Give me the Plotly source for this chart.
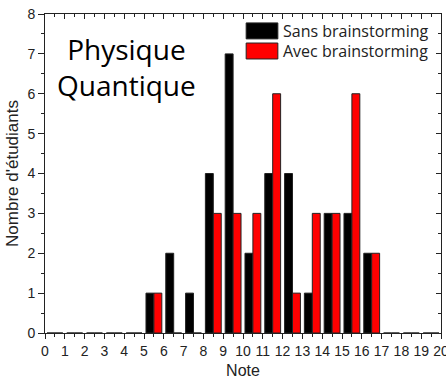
import plotly.graph_objects as go

notes = list(range(0, 20))
sans = [0, 0, 0, 0, 0, 1, 2, 1, 4, 7, 2, 4, 4, 1, 3, 3, 2, 0, 0, 0]
avec = [0, 0, 0, 0, 0, 1, 0, 0, 3, 3, 3, 6, 1, 3, 3, 6, 2, 0, 0, 0]
series_names = ["Sans brainstorming", "Avec brainstorming"]
series_colors = ["black", "#ff0000"]
xticks = list(range(0, 21))
yticks = list(range(0, 9))

xc = [n + 0.5 for n in notes]

fig = go.Figure()
for vals, name, col in zip([sans, avec], series_names, series_colors):
    fig.add_trace(go.Bar(x=xc, y=vals, name=name, showlegend=False,
                         marker=dict(color=col, line=dict(color="#222", width=1))))
fig.add_trace(go.Scatter(x=[None], y=[None], xaxis="x2", yaxis="y2", showlegend=False))

# custom legend (large swatches like the original)
shapes = []
annotations = []
for i, (name, col) in enumerate(zip(series_names, series_colors)):
    y_top = 0.972 - i * 0.063
    shapes.append(dict(type="rect", xref="paper", yref="paper",
                       x0=0.508, x1=0.588, y0=y_top - 0.05, y1=y_top,
                       fillcolor=col, line=dict(color="#222", width=1)))
    annotations.append(dict(text=name, xref="paper", yref="paper", x=0.595,
                            y=y_top - 0.025, xanchor="left", yanchor="middle",
                            showarrow=False,
                            font=dict(family="Open Sans", size=16, color="#222")))

annotations.append(dict(text="Physique<br>Quantique", x=0.207, y=0.955,
                        xref="paper", yref="paper", xanchor="center", yanchor="top",
                        showarrow=False, align="center",
                        font=dict(family="Open Sans", size=28, color="black")))

tickfont = dict(family="Liberation Sans, Arial", size=14, color="#222")
common = dict(showgrid=False, zeroline=False, tickcolor="#222", showline=True,
              linecolor="#222", linewidth=1)
fig.update_layout(
    width=446, height=381,
    margin=dict(l=45, r=5, t=14, b=48, autoexpand=False),
    paper_bgcolor="white", plot_bgcolor="white",
    barmode="group", bargap=0.2, bargroupgap=0,
    font=dict(family="Liberation Sans, Arial", color="#222"),
    xaxis=dict(range=[0, 20], tickvals=xticks, ticks="outside", ticklen=5,
               tickfont=tickfont, automargin=False, ticklabeloverflow="allow",
               minor=dict(dtick=0.5, ticks="outside", ticklen=3, tickcolor="#222"),
               title=dict(text="Note", font=dict(size=16), standoff=7), **common),
    yaxis=dict(range=[0, 8], tickvals=yticks, ticks="outside", ticklen=6,
               tickfont=tickfont, automargin=False,
               minor=dict(dtick=0.5, ticks="outside", ticklen=3, tickcolor="#222"),
               title=dict(text="Nombre d'étudiants", font=dict(size=17), standoff=4), **common),
    xaxis2=dict(range=[0, 20], overlaying="x", side="top", tickvals=xticks,
                ticks="inside", ticklen=5, showticklabels=False,
                minor=dict(dtick=0.5, ticks="inside", ticklen=3, tickcolor="#222"), **common),
    yaxis2=dict(range=[0, 8], overlaying="y", side="right", tickvals=yticks,
                ticks="inside", ticklen=5, showticklabels=False,
                minor=dict(dtick=0.5, ticks="inside", ticklen=3, tickcolor="#222"), **common),
    showlegend=False,
    shapes=shapes,
    annotations=annotations,
)
fig.write_html("out.html", config={"displayModeBar": False},
               post_script="document.body.style.margin='0';")
